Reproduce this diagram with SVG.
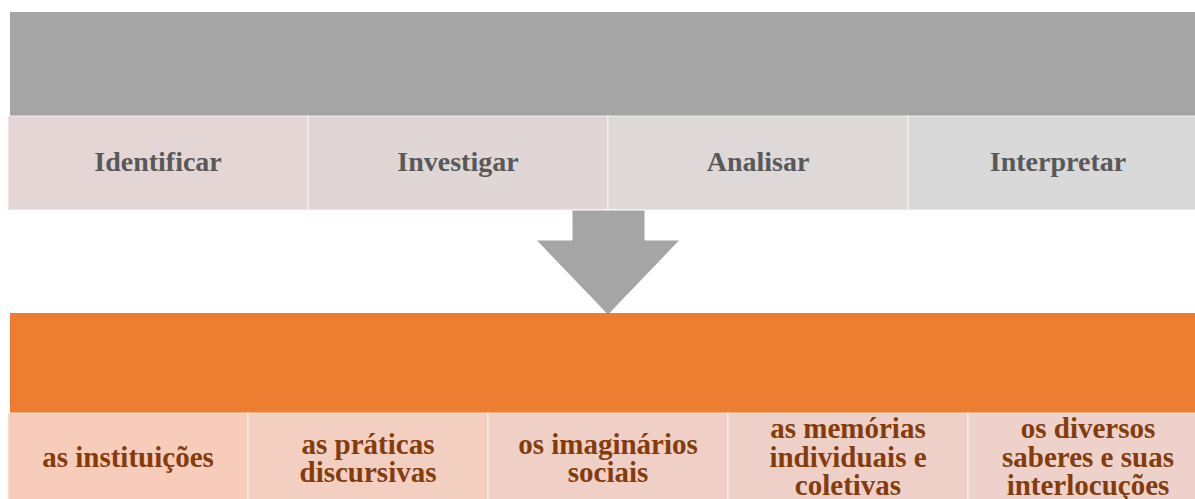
<svg xmlns="http://www.w3.org/2000/svg" width="1195" height="499" viewBox="0 0 1195 499">
<style>
.t{font-family:"Liberation Serif","Times New Roman",serif;font-weight:bold;font-size:28px;text-anchor:middle}
.tg{fill:#595959}
.tb{fill:#843C0C;font-size:29px}
.cell{stroke:#ffffff;stroke-opacity:0.35;stroke-width:2}
</style>
<rect width="1195" height="499" fill="#ffffff"/>
<g id="header-top"><rect x="10" y="12" width="1195" height="104" fill="#A5A5A5"/></g>
<g id="identificar"><rect class="cell" x="8" y="116" width="300" height="94" fill="#E4D6D5"/><text class="t tg" x="158" y="171">Identificar</text></g>
<g id="investigar"><rect class="cell" x="308" y="116" width="300" height="94" fill="#E0D6D6"/><text class="t tg" x="458" y="171">Investigar</text></g>
<g id="analisar"><rect class="cell" x="608" y="116" width="300" height="94" fill="#DED8D8"/><text class="t tg" x="758" y="171">Analisar</text></g>
<g id="interpretar"><rect class="cell" x="908" y="116" width="300" height="94" fill="#D9D9D9"/><text class="t tg" x="1058" y="171">Interpretar</text></g>
<g id="connectors"><path d="M572,210 L645,210 L645,240 L680,240 L608,315 L536,240 L572,240 Z" fill="#A5A5A5" stroke="#ffffff" stroke-width="1"/></g>
<g id="header-bottom"><rect x="10" y="313" width="1195" height="100" fill="#ED7D31"/></g>
<g id="instituicoes"><rect class="cell" x="8" y="413" width="240" height="100" fill="#F7CCBA"/><text class="t tb" x="128" y="467">as instituições</text></g>
<g id="praticas"><rect class="cell" x="248" y="413" width="240" height="100" fill="#F3CFC2"/><text class="t tb" x="368" y="454">as práticas</text><text class="t tb" x="368" y="482">discursivas</text></g>
<g id="imaginarios"><rect class="cell" x="488" y="413" width="240" height="100" fill="#F0D0C6"/><text class="t tb" x="608" y="454">os imaginários</text><text class="t tb" x="608" y="482">sociais</text></g>
<g id="memorias"><rect class="cell" x="728" y="413" width="240" height="100" fill="#EED0C8"/><text class="t tb" x="848" y="438">as memórias</text><text class="t tb" x="848" y="467">individuais e</text><text class="t tb" x="848" y="495">coletivas</text></g>
<g id="saberes"><rect class="cell" x="968" y="413" width="240" height="100" fill="#EDD1CA"/><text class="t tb" x="1088" y="438">os diversos</text><text class="t tb" x="1088" y="467">saberes e suas</text><text class="t tb" x="1088" y="495">interlocuções</text></g>
</svg>
